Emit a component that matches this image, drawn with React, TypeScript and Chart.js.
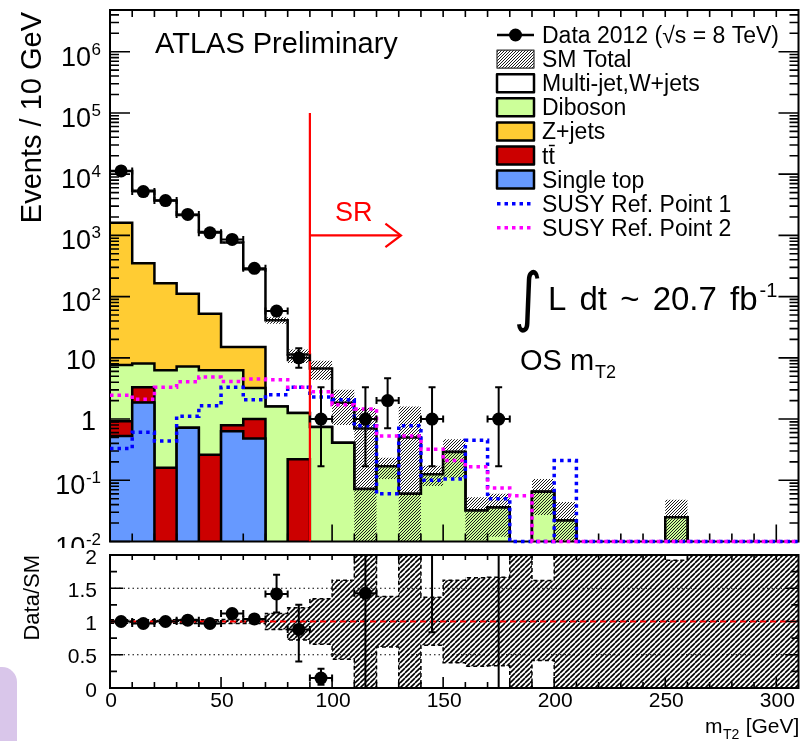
import React, { useEffect, useRef } from 'react';
import { Chart, registerables } from 'chart.js';

Chart.register(...registerables);

// ---------------- binning (m_T2, 10 GeV bins) ----------------
const binEdges = [0, 10, 20, 30, 40, 50, 60, 70, 80, 90, 100, 110, 120, 130, 140, 150, 160, 170, 180, 190, 200, 210, 220, 230, 240, 250, 260, 270, 280, 290, 300, 310];
const binCenters = [5, 15, 25, 35, 45, 55, 65, 75, 85, 95, 105, 115, 125, 135, 145, 155, 165, 175, 185, 195, 205, 215, 225, 235, 245, 255, 265, 275, 285, 295, 305];

// ---------------- observed events ----------------
const dataCounts = [11300, 5200, 3700, 2200, 1100, 860, 290, 58, 10, 1, 0, 1, 2, 0, 1, 0, 0, 1, 0, 0, 0, 0, 0, 0, 0, 0, 0, 0, 0, 0, 0];
const dataErrDown = [106, 72, 61, 47, 33, 29, 17, 7.6, 3.1, 0.83, 0, 0.83, 1.29, 0, 0.83, 0, 0, 0.83, 0, 0, 0, 0, 0, 0, 0, 0, 0, 0, 0, 0, 0];
const dataErrUp = [106, 72, 61, 47, 33, 29, 17, 8.6, 4.3, 2.3, 0, 2.3, 2.64, 0, 2.3, 0, 0, 2.3, 0, 0, 0, 0, 0, 0, 0, 0, 0, 0, 0, 0, 0];

// ---------------- SM backgrounds (stacked bottom to top) ----------------
const singleTop = [0.53, 1.87, 0, 0.72, 0, 0.63, 0.48, 0, 0, 0, 0, 0, 0, 0, 0, 0, 0, 0, 0, 0, 0, 0, 0, 0, 0, 0, 0, 0, 0, 0, 0];
const ttbar = [0.39, 1.43, 0.16, 0, 0.26, 0.16, 0.52, 0, 0.22, 0, 0, 0, 0, 0, 0, 0, 0, 0, 0, 0, 0, 0, 0, 0, 0, 0, 0, 0, 0, 0, 0];
const diboson = [6.7, 4.8, 6.1, 6.5, 6.0, 5.5, 2.2, 1.61, 1.04, 0.74, 0.41, 0.072, 0.17, 0.06, 0.126, 0.29, 0.032, 0.036, 0, 0.065, 0.022, 0, 0, 0, 0, 0.025, 0, 0, 0, 0, 0];
const zJets = [1600, 344, 159, 104, 46, 8.7, 11.8, 0, 0, 0, 0, 0, 0, 0, 0, 0, 0, 0, 0, 0, 0, 0, 0, 0, 0, 0, 0, 0, 0, 0, 0];
const multiJet = [9690, 5010, 3535, 2046, 1082, 753, 264, 39.4, 10.1, 5.96, 1.44, 0.63, 0, 0.44, 0, 0, 0, 0, 0, 0, 0, 0, 0, 0, 0, 0, 0, 0, 0, 0, 0];

// SM total uncertainty envelope
const smTotalUp = [11600, 5500, 3800, 2220, 1165, 790, 287, 46, 13.7, 9.0, 3.0, 1.51, 0.234, 1.61, 0.172, 0.47, 0.053, 0.06, 0, 0.105, 0.044, 0, 0, 0, 0, 0.048, 0, 0, 0, 0, 0];
const smTotalDown = [11000, 5220, 3600, 2095, 1100, 746, 271, 36, 8.2, 4.4, 0.8, 0, 0.105, 0, 0.081, 0.11, 0.0105, 0.012, 0, 0.027, 0, 0, 0, 0, 0, 0, 0, 0, 0, 0, 0];

// ---------------- signal reference points ----------------
const susyRef1 = [0.33, 0.61, 0.44, 1.11, 1.65, 3.3, 2.07, 2.5, 3.3, 2.3, 2.07, 0.78, 0.06, 0.78, 0.1, 0.105, 0.45, 0.05, 0, 0, 0.21, 0, 0, 0, 0, 0, 0, 0, 0, 0, 0];
const susyRef2 = [2.45, 2.1, 3.3, 4.05, 4.85, 4.1, 4.5, 4.4, 3.3, 2.8, 1.72, 1.46, 0.53, 0.53, 0.32, 0.21, 0.166, 0.075, 0.056, 0, 0, 0, 0, 0, 0, 0, 0, 0, 0, 0, 0];

// ---------------- Data/SM uncertainties ----------------
const ratioErrDown = [0.012, 0.015, 0.017, 0.022, 0.03, 0.04, 0.06, 0.28, 0.48, 0.10, 0, 1.43, 7.6, 0, 7.1, 0, 0, 27.8, 0, 0, 0, 0, 0, 0, 0, 0, 0, 0, 0, 0, 0];
const ratioErrUp = [0.012, 0.015, 0.017, 0.022, 0.03, 0.04, 0.06, 0.29, 0.37, 0.14, 0, 3.3, 15, 0, 18, 0, 0, 64, 0, 0, 0, 0, 0, 0, 0, 0, 0, 0, 0, 0, 0];

// ---------------- signal region marker ----------------
const srBoundary = 90;
const srLineTop = 1e5;
const srArrowLevel = 1000;
const srArrowTip = 131;
const srArrowWing = 124;
const srArrowWingFactor = 1.55;

// ---------------- axes ----------------
const X_MIN = 0;
const X_MAX = 310;
const Y_MIN = 0.01;
const Y_MAX = 4.8e6;
const R_MIN = 0;
const R_MAX = 2;
const ratioReference = 1;
const ratioFullHi = 2.4;
const ratioFullLo = -0.4;

const yTickValues = [0.01, 0.1, 1, 10, 100, 1000, 10000, 100000, 1000000];
const yTickBases = ['10', '10', '1', '10', '10', '10', '10', '10', '10'];
const yTickExps = ['-2', '-1', '', '', '2', '3', '4', '5', '6'];
const yDecades = [-2, -1, 0, 1, 2, 3, 4, 5, 6];
const yMinorMultipliers = [2, 3, 4, 5, 6, 7, 8, 9];
const xMajorTicks = [0, 50, 100, 150, 200, 250, 300];
const xTickLabels = ['0', '50', '100', '150', '200', '250', '300'];
const ratioMajorTicks = [0, 0.5, 1, 1.5, 2];
const ratioTickLabels = ['0', '0.5', '1', '1.5', '2'];
const ratioMinorTicks = [0.25, 0.75, 1.25, 1.75];
const ratioGridLines = [0.5, 1, 1.5];

// ---------------- styling ----------------
const FONT = '"Liberation Sans", Arial, Helvetica, sans-serif';
const COL_SINGLE_TOP = '#6699ff';
const COL_TTBAR = '#cc0000';
const COL_DIBOSON = '#ccff99';
const COL_ZJETS = '#ffcc33';
const COL_MULTIJET = '#ffffff';
const COL_SUSY1 = '#0000ff';
const COL_SUSY2 = '#ff00ff';
const COL_SR = '#ff0000';
const LOG_FLOOR = 1e-6;

const legendLabels = ['Data 2012 (\u221As = 8 TeV)', 'SM Total', 'Multi-jet,W+jets', 'Diboson', 'Z+jets', 'tt', 'Single top', 'SUSY Ref. Point 1', 'SUSY Ref. Point 2'];
const legendKinds = ['data', 'hatch', 'box', 'box', 'box', 'box', 'box', 'dots', 'dots'];
const legendColors = ['#000', '', COL_MULTIJET, COL_DIBOSON, COL_ZJETS, COL_TTBAR, COL_SINGLE_TOP, COL_SUSY1, COL_SUSY2];
const lumiWords = ['L', 'dt', '~', '20.7', 'fb'];

// ---------------- helpers ----------------
const sumSeries = (list: number[][]) => binCenters.map((_, i) => list.reduce((s, a) => s + a[i], 0));
const stepPoints = (vals: number[], map: (v: number) => number) =>
  binEdges.map((x, i) => ({ x, y: map(vals[Math.min(i, vals.length - 1)]) }));
const floorLog = (v: number) => (v > 0 ? v : LOG_FLOOR);
const clampAxis = (v: number) => Math.max(v, Y_MIN);
const same = (v: number) => v;

function makeHatch(size: number, width: number, color: string) {
  const c = document.createElement('canvas');
  c.width = size;
  c.height = size;
  const g = c.getContext('2d') as CanvasRenderingContext2D;
  g.strokeStyle = color;
  g.lineWidth = width;
  g.beginPath();
  for (const off of [-size, 0, size]) {
    g.moveTo(off, size);
    g.lineTo(off + size, 0);
  }
  g.stroke();
  return g.createPattern(c, 'repeat') as CanvasPattern;
}

// error bars as broken polylines plus end caps
function errorBars(values: (number | null)[], lo: number[], hi: number[], floor: (v: number) => number) {
  const seg: any[] = [];
  const capsFlat: any[] = [];
  const capsUpright: any[] = [];
  const marks: any[] = [];
  values.forEach((v, i) => {
    if (v === null || !(v > 0)) return;
    const c = binCenters[i];
    const half = (binEdges[i + 1] - binEdges[i]) / 2;
    const yLo = floor(v - lo[i]);
    const yHi = v + hi[i];
    seg.push({ x: c - half, y: v }, { x: c + half, y: v }, { x: c, y: null });
    seg.push({ x: c, y: yLo }, { x: c, y: yHi }, { x: c, y: null });
    capsFlat.push({ x: c, y: yLo }, { x: c, y: yHi });
    capsUpright.push({ x: c - half, y: v }, { x: c + half, y: v });
    marks.push({ x: c, y: v });
  });
  return { seg, capsFlat, capsUpright, marks };
}

function errorDatasets(values: (number | null)[], lo: number[], hi: number[], floor: (v: number) => number) {
  const e = errorBars(values, lo, hi, floor);
  return [
    { data: e.seg, showLine: true, fill: false, borderColor: '#000', borderWidth: 2, pointRadius: 0, spanGaps: false, order: 5 },
    { data: e.capsFlat, showLine: false, pointStyle: 'line', pointRadius: 3.5, pointRotation: 0, pointBorderColor: '#000', pointBorderWidth: 2, order: 4 },
    { data: e.capsUpright, showLine: false, pointStyle: 'line', pointRadius: 3.5, pointRotation: 90, pointBorderColor: '#000', pointBorderWidth: 2, order: 4 },
    { data: e.marks, showLine: false, pointStyle: 'circle', pointRadius: 6.5, pointBackgroundColor: '#000', pointBorderColor: '#000', pointBorderWidth: 0, order: 1 },
  ];
}

// ---------------- main panel ----------------
function drawMainAxes(chart: any) {
  const { ctx, chartArea: a, scales } = chart;
  const x = scales.x;
  const y = scales.y;
  ctx.save();
  ctx.strokeStyle = '#000';
  ctx.lineWidth = 1.6;
  ctx.beginPath();
  binEdges.forEach((v) => {
    const px = x.getPixelForValue(v);
    if (px <= a.left + 1 || px >= a.right - 1) return;
    const major = xMajorTicks.includes(v);
    ctx.moveTo(px, a.bottom);
    ctx.lineTo(px, a.bottom - (major ? 17 : 8));
    ctx.moveTo(px, a.top);
    ctx.lineTo(px, a.top + 7);
  });
  yDecades.forEach((d) => {
    const base = Math.pow(10, d);
    const marks = [{ v: base, len: 20 }].concat(yMinorMultipliers.map((m) => ({ v: m * base, len: 9 })));
    marks.forEach(({ v, len }) => {
      if (v < Y_MIN || v > Y_MAX) return;
      const py = y.getPixelForValue(v);
      ctx.moveTo(a.left, py);
      ctx.lineTo(a.left + len, py);
      ctx.moveTo(a.right, py);
      ctx.lineTo(a.right - len, py);
    });
  });
  ctx.stroke();
  ctx.lineWidth = 2;
  ctx.strokeRect(a.left, a.top, a.right - a.left, a.bottom - a.top);
  ctx.restore();
}

function drawMainText(chart: any, hatch: CanvasPattern) {
  const { ctx, scales } = chart;
  const y = scales.y;
  ctx.save();
  ctx.fillStyle = '#000';
  ctx.textBaseline = 'alphabetic';

  // y tick labels
  ctx.textAlign = 'right';
  yTickValues.forEach((v, i) => {
    const py = y.getPixelForValue(v);
    const exp = yTickExps[i];
    if (exp) {
      ctx.font = `17px ${FONT}`;
      ctx.fillText(exp, 101, py + 3);
      const ew = ctx.measureText(exp).width;
      ctx.font = `27px ${FONT}`;
      ctx.fillText(yTickBases[i], 101 - ew - 0.5, py + 14);
    } else {
      ctx.font = `27px ${FONT}`;
      ctx.fillText(yTickBases[i], 96, py + 11);
    }
  });

  // y title
  ctx.save();
  ctx.translate(41, 12);
  ctx.rotate(-Math.PI / 2);
  ctx.textAlign = 'right';
  ctx.font = `29px ${FONT}`;
  ctx.fillText('Events / 10 GeV', 0, 0);
  ctx.restore();

  ctx.textAlign = 'left';
  ctx.font = `29px ${FONT}`;
  ctx.fillText('ATLAS Preliminary', 155, 53);

  // legend
  const x0 = 497;
  const boxW = 37;
  const boxH = 18;
  const textX = 542;
  legendLabels.forEach((label, i) => {
    const cy = 35 + i * 24.1;
    const kind = legendKinds[i];
    ctx.save();
    ctx.lineJoin = 'round';
    if (kind === 'data') {
      ctx.strokeStyle = '#000';
      ctx.lineWidth = 2.5;
      ctx.beginPath();
      ctx.moveTo(x0, cy);
      ctx.lineTo(x0 + boxW, cy);
      ctx.stroke();
      ctx.beginPath();
      ctx.arc(x0 + boxW / 2, cy, 6.5, 0, Math.PI * 2);
      ctx.fillStyle = '#000';
      ctx.fill();
    } else if (kind === 'hatch') {
      ctx.fillStyle = hatch;
      ctx.fillRect(x0, cy - boxH / 2, boxW, boxH);
      ctx.strokeStyle = '#333';
      ctx.lineWidth = 1.2;
      ctx.strokeRect(x0, cy - boxH / 2, boxW, boxH);
    } else if (kind === 'box') {
      ctx.fillStyle = legendColors[i];
      ctx.fillRect(x0, cy - boxH / 2, boxW, boxH);
      ctx.strokeStyle = '#000';
      ctx.lineWidth = 2.5;
      ctx.strokeRect(x0, cy - boxH / 2, boxW, boxH);
    } else {
      ctx.strokeStyle = legendColors[i];
      ctx.lineWidth = 3.5;
      ctx.setLineDash([3.5, 4]);
      ctx.beginPath();
      ctx.moveTo(x0, cy);
      ctx.lineTo(x0 + boxW, cy);
      ctx.stroke();
    }
    ctx.restore();
    ctx.font = `23px ${FONT}`;
    ctx.fillStyle = '#000';
    ctx.fillText(label, textX, cy + 8);
    if (label === 'tt') {
      const tw = ctx.measureText('t').width;
      ctx.save();
      ctx.strokeStyle = '#000';
      ctx.lineWidth = 1.5;
      ctx.beginPath();
      ctx.moveTo(textX + tw + 0.5, cy + 8 - 18);
      ctx.lineTo(textX + 2 * tw, cy + 8 - 18);
      ctx.stroke();
      ctx.restore();
    }
  });

  // signal region label
  ctx.fillStyle = COL_SR;
  ctx.font = `27px ${FONT}`;
  ctx.fillText('SR', 335, 221);

  // luminosity
  ctx.fillStyle = '#000';
  ctx.save();
  ctx.translate(514, 319);
  ctx.scale(1.1, 1.3);
  ctx.font = `50px "DejaVu Sans", ${FONT}`;
  ctx.fillText('\u222B', 0, 0);
  ctx.restore();
  ctx.font = `33px ${FONT}`;
  const gap = ctx.measureText(' ').width + 4;
  let cursor = 548;
  lumiWords.forEach((w, i) => {
    ctx.fillText(w, cursor, 310);
    cursor += ctx.measureText(w).width + (i < lumiWords.length - 1 ? gap : 0);
  });
  ctx.font = `20px ${FONT}`;
  ctx.fillText('-1', cursor + 2, 297);

  // selection label
  ctx.font = `29px ${FONT}`;
  const os = 'OS m';
  ctx.fillText(os, 520, 370);
  const ow = ctx.measureText(os).width;
  ctx.font = `18px ${FONT}`;
  ctx.fillText('T2', 520 + ow + 1, 378);
  ctx.restore();
}

function buildMainConfig(hatch: CanvasPattern) {
  const cumRed = sumSeries([singleTop, ttbar]);
  const cumGreen = sumSeries([singleTop, ttbar, diboson]);
  const cumOrange = sumSeries([singleTop, ttbar, diboson, zJets]);
  const smTotal = sumSeries([singleTop, ttbar, diboson, zJets, multiJet]);

  const stack = (label: string, vals: number[], color: string, order: number) => ({
    label,
    data: stepPoints(vals, floorLog),
    stepped: true,
    fill: 'start',
    backgroundColor: color,
    borderColor: '#000',
    borderWidth: 2.5,
    pointRadius: 0,
    order,
  });

  const dataVals = dataCounts.map((v) => (v > 0 ? v : null));
  const nonSusy = [
    stack('Multi-jet,W+jets', smTotal, COL_MULTIJET, 40),
    stack('Z+jets', cumOrange, COL_ZJETS, 39),
    stack('Diboson', cumGreen, COL_DIBOSON, 38),
    stack('ttbar', cumRed, COL_TTBAR, 37),
    stack('Single top', singleTop, COL_SINGLE_TOP, 36),
    {
      label: 'SM Total',
      data: stepPoints(smTotalUp, floorLog),
      stepped: true,
      fill: '+1',
      backgroundColor: hatch,
      borderColor: 'rgba(0,0,0,0)',
      borderWidth: 1,
      pointRadius: 0,
      order: 34,
      frameAnchor: true,
    },
    {
      label: 'SM Total low',
      data: stepPoints(smTotalDown, floorLog),
      stepped: true,
      fill: false,
      borderColor: 'rgba(0,0,0,0)',
      borderWidth: 1,
      pointRadius: 0,
      order: 35,
    },
  ];
  const susy = [
    { label: 'SUSY Ref. Point 1', data: stepPoints(susyRef1, clampAxis), color: COL_SUSY1, order: 20 },
    { label: 'SUSY Ref. Point 2', data: stepPoints(susyRef2, clampAxis), color: COL_SUSY2, order: 19 },
  ].map((s) => ({
    label: s.label,
    data: s.data,
    stepped: true,
    fill: false,
    borderColor: s.color,
    borderWidth: 3.5,
    borderDash: [3.5, 4],
    borderCapStyle: 'butt',
    pointRadius: 0,
    order: s.order,
    clip: { left: 0, top: 0, right: 0, bottom: 3 },
  }));
  const srStyle = { fill: false, borderColor: COL_SR, borderWidth: 2.2, pointRadius: 0, order: 15 };
  const sr = [
    { ...srStyle, data: [{ x: srBoundary, y: Y_MIN }, { x: srBoundary, y: srLineTop }] },
    { ...srStyle, data: [{ x: srBoundary, y: srArrowLevel }, { x: srArrowTip, y: srArrowLevel }] },
    {
      ...srStyle,
      data: [
        { x: srArrowWing, y: srArrowLevel * srArrowWingFactor },
        { x: srArrowTip, y: srArrowLevel },
        { x: srArrowWing, y: srArrowLevel / srArrowWingFactor },
      ],
    },
  ];

  return {
    type: 'line',
    data: { datasets: [...nonSusy, ...susy, ...sr, ...errorDatasets(dataVals, dataErrDown, dataErrUp, floorLog)] },
    options: {
      animation: false,
      responsive: false,
      maintainAspectRatio: false,
      events: [],
      layout: { padding: { left: 110, top: 10, right: 5, bottom: 2 } },
      plugins: { legend: { display: false }, tooltip: { enabled: false } },
      scales: {
        x: { type: 'linear', min: X_MIN, max: X_MAX, display: false },
        y: { type: 'logarithmic', min: Y_MIN, max: Y_MAX, display: false },
      },
    },
    plugins: [
      {
        id: 'mainDecor',
        afterDatasetDraw(chart: any, args: any) {
          if (chart.data.datasets[args.index].frameAnchor) drawMainAxes(chart);
        },
        afterDraw(chart: any) {
          drawMainText(chart, hatch);
        },
      },
    ],
  };
}

// ---------------- ratio panel ----------------
function buildRatioConfig(hatch: CanvasPattern) {
  const smTotal = sumSeries([singleTop, ttbar, diboson, zJets, multiJet]);
  const ratio = dataCounts.map((d, i) => (d > 0 && smTotal[i] > 0 ? d / smTotal[i] : null));
  const bandUp = smTotal.map((s, i) => (s > 0 ? smTotalUp[i] / s : ratioFullHi));
  const bandDown = smTotal.map((s, i) => (s > 0 ? smTotalDown[i] / s : ratioFullLo));

  const datasets: any[] = [
    {
      label: 'band up',
      data: stepPoints(bandUp, same),
      stepped: true,
      fill: '+1',
      backgroundColor: hatch,
      borderColor: '#000',
      borderWidth: 1.5,
      borderDash: [4, 3],
      pointRadius: 0,
      order: 10,
    },
    {
      label: 'band down',
      data: stepPoints(bandDown, same),
      stepped: true,
      fill: false,
      borderColor: '#000',
      borderWidth: 1.5,
      borderDash: [4, 3],
      pointRadius: 0,
      order: 11,
    },
    {
      label: 'unity',
      data: [{ x: X_MIN, y: ratioReference }, { x: X_MAX, y: ratioReference }],
      fill: false,
      borderColor: COL_SR,
      borderWidth: 2,
      borderDash: [6, 4],
      pointRadius: 0,
      order: 6,
      clip: { left: 0, top: 0, right: 6, bottom: 0 },
    },
    ...errorDatasets(ratio, ratioErrDown, ratioErrUp, same),
  ];

  return {
    type: 'line',
    data: { datasets },
    options: {
      animation: false,
      responsive: false,
      maintainAspectRatio: false,
      events: [],
      layout: { padding: { left: 110, top: 7, right: 5, bottom: 53 } },
      plugins: { legend: { display: false }, tooltip: { enabled: false } },
      scales: {
        x: { type: 'linear', min: X_MIN, max: X_MAX, display: false },
        y: { type: 'linear', min: R_MIN, max: R_MAX, display: false },
      },
    },
    plugins: [
      {
        id: 'ratioDecor',
        beforeDatasetsDraw(chart: any) {
          const { ctx, chartArea: a, scales } = chart;
          ctx.save();
          ctx.strokeStyle = '#000';
          ctx.lineWidth = 1;
          ctx.setLineDash([1.5, 3]);
          ctx.beginPath();
          ratioGridLines.forEach((v) => {
            const py = scales.y.getPixelForValue(v);
            ctx.moveTo(a.left, py);
            ctx.lineTo(a.right, py);
          });
          ctx.stroke();
          ctx.restore();
        },
        afterDatasetsDraw(chart: any) {
          const { ctx, chartArea: a, scales } = chart;
          const x = scales.x;
          const y = scales.y;
          ctx.save();
          ctx.strokeStyle = '#000';
          ctx.lineWidth = 1.6;
          ctx.beginPath();
          binEdges.forEach((v) => {
            const px = x.getPixelForValue(v);
            if (px <= a.left + 1 || px >= a.right - 1) return;
            const major = xMajorTicks.includes(v);
            ctx.moveTo(px, a.bottom);
            ctx.lineTo(px, a.bottom - (major ? 11 : 6));
            ctx.moveTo(px, a.top);
            ctx.lineTo(px, a.top + 5);
          });
          ratioMajorTicks.forEach((v) => {
            const py = y.getPixelForValue(v);
            ctx.moveTo(a.left, py);
            ctx.lineTo(a.left + 13, py);
            ctx.moveTo(a.right, py);
            ctx.lineTo(a.right - 13, py);
          });
          ratioMinorTicks.forEach((v) => {
            const py = y.getPixelForValue(v);
            ctx.moveTo(a.left, py);
            ctx.lineTo(a.left + 7, py);
            ctx.moveTo(a.right, py);
            ctx.lineTo(a.right - 7, py);
          });
          ctx.stroke();
          ctx.lineWidth = 2;
          ctx.strokeRect(a.left, a.top, a.right - a.left, a.bottom - a.top);
          ctx.restore();
        },
        afterDraw(chart: any) {
          const { ctx, scales } = chart;
          const x = scales.x;
          const y = scales.y;
          ctx.save();
          ctx.fillStyle = '#000';
          ctx.textBaseline = 'alphabetic';
          ctx.font = `21px ${FONT}`;
          ctx.textAlign = 'right';
          ratioMajorTicks.forEach((v, i) => {
            ctx.fillText(ratioTickLabels[i], 97, y.getPixelForValue(v) + 8.5);
          });
          ctx.textAlign = 'center';
          xMajorTicks.forEach((v, i) => {
            ctx.fillText(xTickLabels[i], x.getPixelForValue(v) + 1, 159);
          });
          // axis titles
          ctx.textAlign = 'left';
          ctx.font = `21px ${FONT}`;
          ctx.fillText('m', 705, 185);
          const mw = ctx.measureText('m').width;
          ctx.font = `14px ${FONT}`;
          ctx.fillText('T2', 705 + mw + 0.5, 191);
          const tw = ctx.measureText('T2').width;
          ctx.font = `21px ${FONT}`;
          ctx.fillText(' [GeV]', 705 + mw + tw + 1, 185);
          ctx.save();
          ctx.translate(39, 7);
          ctx.rotate(-Math.PI / 2);
          ctx.textAlign = 'right';
          ctx.font = `22px ${FONT}`;
          ctx.fillText('Data/SM', 0, 0);
          ctx.restore();
          ctx.restore();
        },
      },
    ],
  };
}

export default function App() {
  const mainRef = useRef<HTMLCanvasElement>(null);
  const ratioRef = useRef<HTMLCanvasElement>(null);

  useEffect(() => {
    const hatchMain = makeHatch(3, 1, '#1a1a1a');
    const hatchRatio = makeHatch(5, 1.6, '#000');
    const main = new Chart(mainRef.current as HTMLCanvasElement, buildMainConfig(hatchMain) as any);
    const ratio = new Chart(ratioRef.current as HTMLCanvasElement, buildRatioConfig(hatchRatio) as any);
    return () => {
      main.destroy();
      ratio.destroy();
    };
  }, []);

  return (
    <div style={{ position: 'absolute', left: 0, top: 0, width: 805, height: 741, background: '#fff', overflow: 'hidden' }}>
      <canvas ref={mainRef} width={805} height={548} style={{ position: 'absolute', left: 0, top: 0 }} />
      <canvas ref={ratioRef} width={805} height={193} style={{ position: 'absolute', left: 0, top: 548 }} />
      <div style={{ position: 'absolute', left: 0, top: 667, width: 17, height: 74, background: '#d9c6ea', borderTopRightRadius: 15 }} />
    </div>
  );
}
